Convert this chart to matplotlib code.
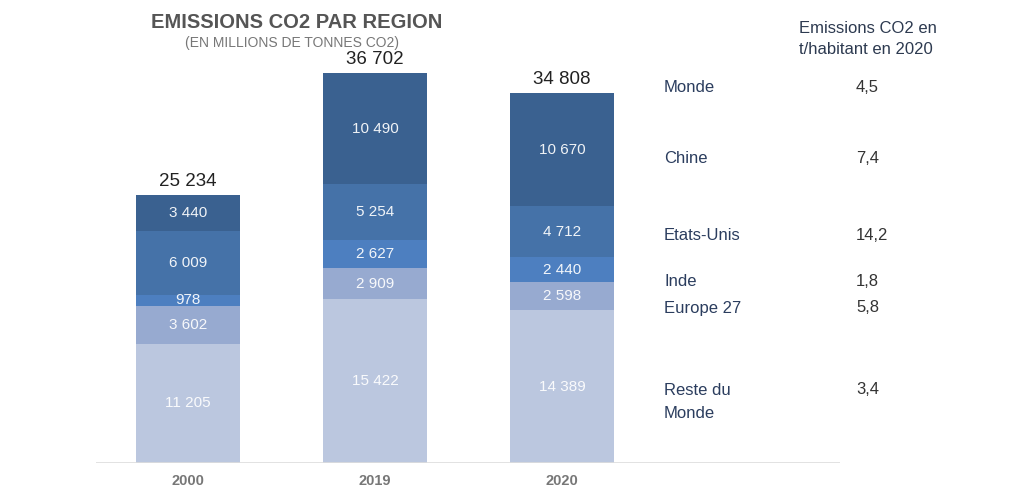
import matplotlib.pyplot as plt
import numpy as np

plt.rcParams['font.family'] = ['Liberation Sans', 'DejaVu Sans']

years = ['2000', '2019', '2020']
regions = ['Reste du\nMonde', 'Europe 27', 'Inde', 'Etats-Unis', 'Chine']
reste = [11205, 15422, 14389]
europe = [3602, 2909, 2598]
inde = [978, 2627, 2440]
usa = [6009, 5254, 4712]
chine = [3440, 10490, 10670]
totals = [25234, 36702, 34808]

per_capita_labels = ['Monde', 'Chine', 'Etats-Unis', 'Inde', 'Europe 27', 'Reste du\nMonde']
per_capita = ['4,5', '7,4', '14,2', '1,8', '5,8', '3,4']

colors = ['#bbc7df', '#97aad0', '#4d7fc0', '#4572a8', '#3a6190']


def fmt(v):
    return f"{v:,}".replace(',', ' ')


def main():
    fig = plt.figure(figsize=(10.24, 4.93), dpi=100)
    H = 493
    # axes spans pixel x 96..840, y 20..463
    ax = fig.add_axes([96 / 1024, (H - 463) / H, (840 - 96) / 1024, (463 - 20) / H])
    ax.set_ylim(0, 443 * 36702 / 390)
    ax.set_xlim(-0.492, 3.487)

    x = np.arange(len(years))
    series = [reste, europe, inde, usa, chine]
    bottom = np.zeros(len(years))
    for vals, col in zip(series, colors):
        ax.bar(x, vals, width=0.556, bottom=bottom, color=col, linewidth=0)
        for xi, b, v in zip(x, bottom, vals):
            ax.text(xi, b + v / 2, fmt(v), ha='center', va='center',
                    color='white', alpha=0.92, fontsize=11)
        bottom += np.array(vals)

    for xi, t in zip(x, totals):
        ax.text(xi, t + 450, fmt(t), ha='center', va='bottom', color='#222222', fontsize=13.5)

    ax.axhline(0, color='#dddddd', linewidth=1.2)
    for s in ax.spines.values():
        s.set_visible(False)
    ax.set_yticks([])
    ax.set_xticks(x)
    ax.set_xticklabels(years, color='#777777', fontsize=10.5, fontweight='bold')
    ax.tick_params(axis='x', length=0, pad=8)

    # title
    fig.text(297 / 1024, 1 - 22 / H, 'EMISSIONS CO2 PAR REGION', ha='center', va='center',
             fontsize=14.5, fontweight='bold', color='#555555')
    fig.text(292 / 1024, 1 - 43 / H, '(EN MILLIONS DE TONNES CO2)', ha='center', va='center',
             fontsize=10, color='#777777')

    # per-capita table
    fig.text(799 / 1024, 1 - 39 / H, 'Emissions CO2 en\nt/habitant en 2020', ha='left', va='center',
             fontsize=12, color='#2d3a50', linespacing=1.5)
    name_y = [87, 159, 236, 282, 308, 402]
    val_y = [87, 159, 236, 282, 308, 389]
    for name, v, ny, vy in zip(per_capita_labels, per_capita, name_y, val_y):
        fig.text(664 / 1024, 1 - ny / H, name, ha='left', va='center', fontsize=12,
                 color='#2b3d5e', linespacing=1.65)
        fig.text(856 / 1024, 1 - vy / H, v, ha='left', va='center', fontsize=12,
                 color='#333333')

    fig.savefig('out.png', dpi=100, facecolor='white')


if __name__ == "__main__":
    main()
